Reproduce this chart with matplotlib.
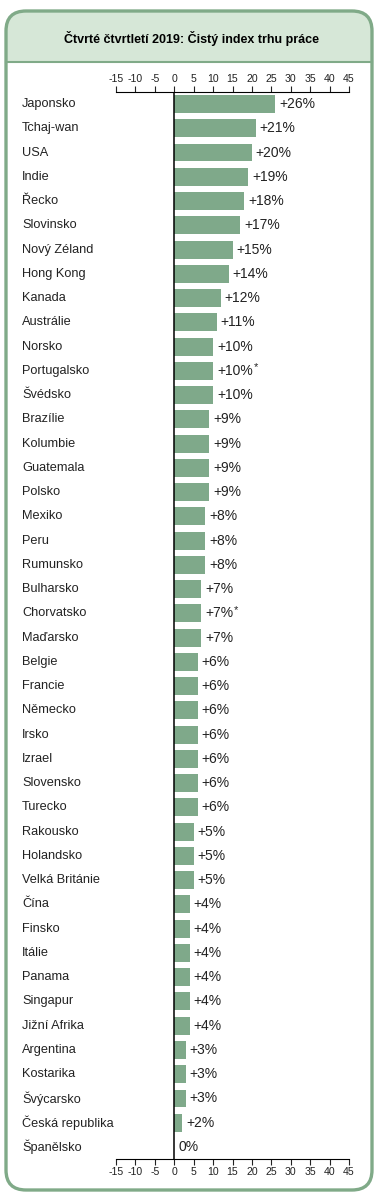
import matplotlib.pyplot as plt
from matplotlib.patches import FancyBboxPatch, Rectangle
from matplotlib.transforms import blended_transform_factory

plt.rcParams['font.family'] = ['Liberation Sans', 'DejaVu Sans']
plt.rcParams['axes.unicode_minus'] = False

title = 'Čtvrté čtvrtletí 2019: Čistý index trhu práce'
countries = ['Japonsko', 'Tchaj-wan', 'USA', 'Indie', 'Řecko', 'Slovinsko', 'Nový Zéland',
             'Hong Kong', 'Kanada', 'Austrálie', 'Norsko', 'Portugalsko', 'Švédsko',
             'Brazílie', 'Kolumbie', 'Guatemala', 'Polsko', 'Mexiko', 'Peru', 'Rumunsko',
             'Bulharsko', 'Chorvatsko', 'Maďarsko', 'Belgie', 'Francie', 'Německo', 'Irsko',
             'Izrael', 'Slovensko', 'Turecko', 'Rakousko', 'Holandsko', 'Velká Británie',
             'Čína', 'Finsko', 'Itálie', 'Panama', 'Singapur', 'Jižní Afrika', 'Argentina',
             'Kostarika', 'Švýcarsko', 'Česká republika', 'Španělsko']
values = [26, 21, 20, 19, 18, 17, 15, 14, 12, 11, 10, 10, 10, 9, 9, 9, 9, 8, 8, 8,
          7, 7, 7, 6, 6, 6, 6, 6, 6, 6, 5, 5, 5, 4, 4, 4, 4, 4, 4, 3, 3, 3, 2, 0]
starred = ['Portugalsko', 'Chorvatsko']
ticks = list(range(-15, 50, 5))

W, H = 383, 1200
bar_color = '#7fa98a'
border_color = '#80aa88'
header_color = '#d6e7d7'
text_color = '#222222'

fig = plt.figure(figsize=(W / 100, H / 100), dpi=100)

# background frame, drawn in pixel coords
bg = fig.add_axes([0, 0, 1, 1])
bg.set_xlim(0, W)
bg.set_ylim(H, 0)
bg.axis('off')
frame = FancyBboxPatch((6, 11), 366, 1179, boxstyle='round,pad=0,rounding_size=20',
                       fc='white', ec='none')
bg.add_patch(frame)
head = Rectangle((0, 0), W, 62, fc=header_color, ec='none')
bg.add_patch(head)
head.set_clip_path(frame)
bg.plot([6, 372], [62, 62], color=border_color, lw=1.5)
bg.add_patch(FancyBboxPatch((6, 11), 366, 1179, boxstyle='round,pad=0,rounding_size=20',
                            fc='none', ec=border_color, lw=2.4))
bg.text(W / 2, 38, title, ha='center', va='center', fontsize=9, fontweight='bold')

# chart axes: x -15..45 -> px 116..349, rows centred 104..1147
n = len(countries)
x0, x1 = 116, 349
step = (1147 - 104) / (n - 1)
top = 104 - step / 2
bot = 1147 + step / 2
ax = fig.add_axes([x0 / W, 1 - bot / H, (x1 - x0) / W, (bot - top) / H])
ax.set_xlim(-15, 45)
ax.set_ylim(n - 0.5, -0.5)
ax.patch.set_alpha(0)

y = list(range(n))
ax.barh(y, values, height=0.74, color=bar_color, zorder=2)
ax.axvline(0, color='black', lw=1.1, zorder=3)

lab_tr = blended_transform_factory(bg.transData, ax.transData)
for i, (c, v) in enumerate(zip(countries, values)):
    ax.text(22, i, c, transform=lab_tr, ha='left', va='center', fontsize=9.2, color=text_color)
    lbl = f'+{v}%' if v > 0 else f'{v}%'
    t = ax.text(v + 1.0, i, lbl, ha='left', va='center', fontsize=10, color=text_color)
    if c in starred:
        ax.annotate('*', xy=(1, 1), xycoords=t, xytext=(0.5, 1), textcoords='offset points',
                    ha='left', va='top', fontsize=8, color=text_color)

ax.set_yticks([])
ax.set_xticks(ticks)
ax.tick_params(axis='x', top=True, bottom=True, labeltop=True, labelbottom=True,
               direction='out', length=4, width=0.8, labelsize=7.6, pad=2, colors=text_color)
for s in ['left', 'right']:
    ax.spines[s].set_visible(False)
for s in ['top', 'bottom']:
    ax.spines[s].set_linewidth(0.8)

fig.savefig('out.png', dpi=100)
